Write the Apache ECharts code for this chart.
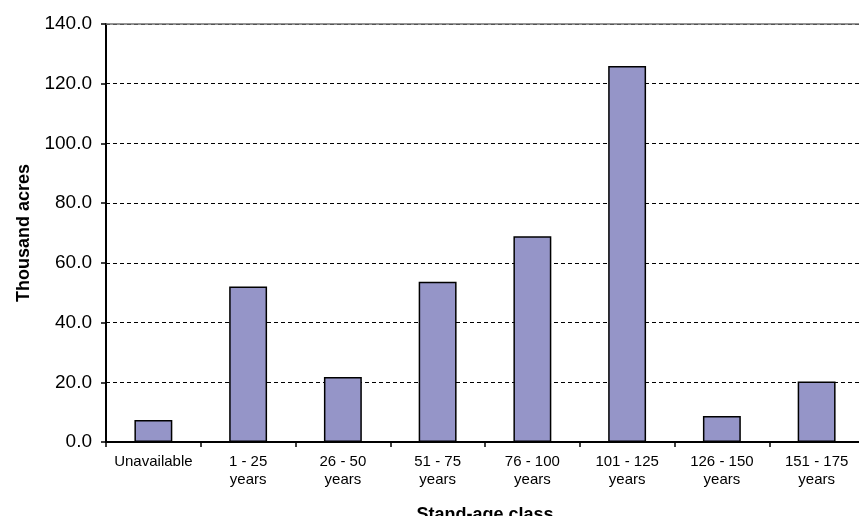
<!DOCTYPE html>
<html>
<head>
<meta charset="utf-8">
<script src="https://cdn.jsdelivr.net/npm/echarts@6/dist/echarts.min.js"></script>
<style>
  html, body { margin: 0; padding: 0; background: #ffffff; overflow: hidden; }
  #chart { width: 864px; height: 516px; }
</style>
</head>
<body>
<div id="chart"></div>
<script>
// Stand-age classes and area (thousand acres)
const categories = ['Unavailable', '1 - 25\nyears', '26 - 50\nyears', '51 - 75\nyears',
  '76 - 100\nyears', '101 - 125\nyears', '126 - 150\nyears', '151 - 175\nyears'];
const acres = [7.4, 52.1, 21.8, 53.7, 68.9, 125.9, 8.7, 20.3];

const chart = echarts.init(document.getElementById('chart'), null, { renderer: 'canvas' });
const font = '"Liberation Sans", Arial, sans-serif';

chart.setOption({
  animation: false,
  backgroundColor: '#ffffff',
  grid: { left: 106, top: 24, right: 0, bottom: 74, containLabel: false, outerBoundsMode: 'none' },
  xAxis: [{
    type: 'category',
    data: categories,
    boundaryGap: true,
    name: 'Stand-age class',
    nameLocation: 'middle',
    nameGap: 64,
    nameTextStyle: { fontFamily: font, fontSize: 18, fontWeight: 'bold', color: '#000' },
    axisLine: { lineStyle: { color: '#000', width: 2 } },
    axisTick: { show: true, length: 5, alignWithLabel: false, lineStyle: { color: '#000', width: 1.5 } },
    axisLabel: { fontFamily: font, fontSize: 15, color: '#000', margin: 11, lineHeight: 18, interval: 0 },
    splitLine: { show: false }
  }, {
    // plot-area top frame
    type: 'category',
    data: categories,
    position: 'top',
    axisLine: { show: true, lineStyle: { color: '#707070', width: 1.5 } },
    axisTick: { show: false },
    axisLabel: { show: false },
    splitLine: { show: false }
  }],
  yAxis: {
    type: 'value',
    min: 0, max: 140, interval: 20,
    name: 'Thousand acres',
    nameLocation: 'middle',
    nameGap: 73,
    nameRotate: 90,
    nameTextStyle: { fontFamily: font, fontSize: 18, fontWeight: 'bold', color: '#000' },
    axisLine: { show: true, lineStyle: { color: '#000', width: 2 } },
    axisTick: { show: true, length: 5, lineStyle: { color: '#000', width: 1.5 } },
    axisLabel: {
      fontFamily: font, fontSize: 19, color: '#000', margin: 14,
      formatter: v => v.toFixed(1)
    },
    splitLine: { show: true, lineStyle: { color: '#000', width: 1, type: [4, 3] } }
  },
  series: [{
    type: 'bar',
    data: acres,
    barWidth: '40%',
    itemStyle: { color: '#9595c8', borderColor: '#000', borderWidth: 1.5 }
  }]
});
</script>
</body>
</html>
